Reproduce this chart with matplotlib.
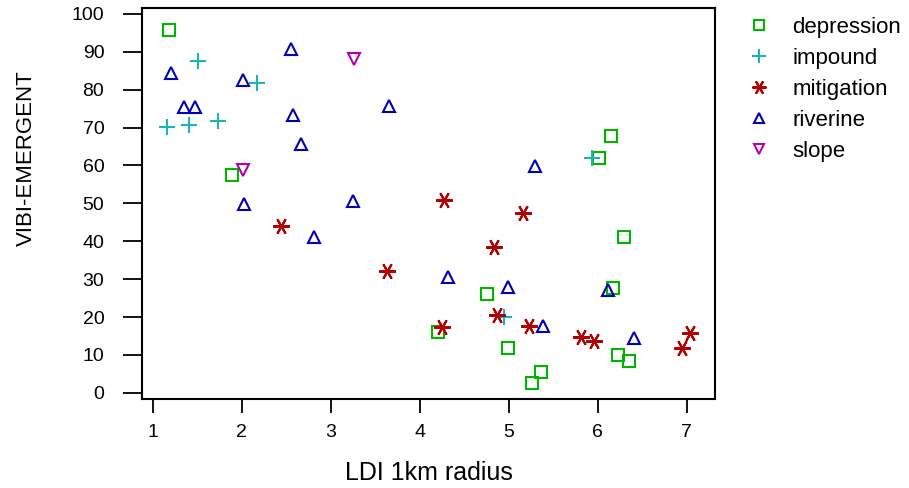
import matplotlib
matplotlib.use("Agg")
import matplotlib.pyplot as plt

plt.rcParams['font.family'] = ['Liberation Sans', 'DejaVu Sans']

# data
dep_x = [1.19, 1.89, 6.29, 4.75, 6.17, 4.21, 4.99, 5.36, 5.26, 6.23, 6.35, 6.15, 6.01]
dep_y = [95.8, 57.6, 41.2, 26.0, 27.8, 16.1, 11.9, 5.5, 2.7, 10.0, 8.4, 67.8, 62.1]

imp_x = [1.51, 2.17, 1.16, 1.41, 1.74, 5.93, 4.95]
imp_y = [87.6, 81.7, 70.2, 70.7, 71.7, 62.1, 20.1]

mit_x = [2.44, 3.63, 4.27, 5.16, 4.83, 4.87, 4.25, 5.23, 5.81, 5.96, 7.03, 6.95]
mit_y = [44.1, 32.1, 50.9, 47.5, 38.4, 20.5, 17.3, 17.7, 14.8, 13.7, 15.7, 11.9]

riv_x = [1.21, 2.56, 2.01, 1.35, 1.48, 2.58, 2.67, 3.66, 2.03, 3.25, 2.81,
         5.29, 4.32, 4.99, 6.11, 5.38, 6.41]
riv_y = [84.5, 90.8, 82.6, 75.4, 75.4, 73.3, 65.7, 75.7, 49.8, 50.7, 41.0,
         59.9, 30.5, 28.0, 27.1, 17.6, 14.6]

slp_x = [3.26, 2.01]
slp_y = [88.1, 58.8]

fig = plt.figure(figsize=(9.09, 4.88), dpi=100)
ax = fig.add_axes([0.156, 0.182, 0.631, 0.802])

mw = 1.5
ax.plot(dep_x, dep_y, 's', ls='none', ms=8.5, mfc='none', mec='#00b400', mew=mw, label='depression')
ax.plot(imp_x, imp_y, '+', ls='none', ms=12, mec='#1fb4b4', mew=mw, label='impound')
ax.plot(mit_x, mit_y, marker=(6, 2, 90), ls='none', ms=12, mec='#b40000', mew=mw, label='mitigation')
ax.plot(riv_x, riv_y, '^', ls='none', ms=9, mfc='none', mec='#0000b4', mew=mw, label='riverine')
ax.plot(slp_x, slp_y, 'v', ls='none', ms=9, mfc='none', mec='#b400b4', mew=mw, label='slope')

ax.set_xlim(0.879, 7.32)
ax.set_ylim(-1.66, 101.6)
ax.set_xticks(range(1, 8))
ax.set_yticks(range(0, 101, 10))
ax.tick_params(labelsize=14, width=1.3, direction='out')
ax.tick_params(axis='x', length=10, pad=8)
ax.tick_params(axis='y', length=14, pad=13)
for s in ax.spines.values():
    s.set_linewidth(1.5)

ax.set_xlabel('LDI 1km radius', fontsize=18, labelpad=14)
ax.set_ylabel('VIBI-EMERGENT', fontsize=16)
ax.yaxis.set_label_coords(-0.183, 0.616)

ax.legend(loc='upper left', bbox_to_anchor=(1.022, 1.027), frameon=False, fontsize=16,
          handletextpad=1.0, labelspacing=0.45, handlelength=1.0, markerscale=0.85)

fig.savefig('out.png', dpi=100)
